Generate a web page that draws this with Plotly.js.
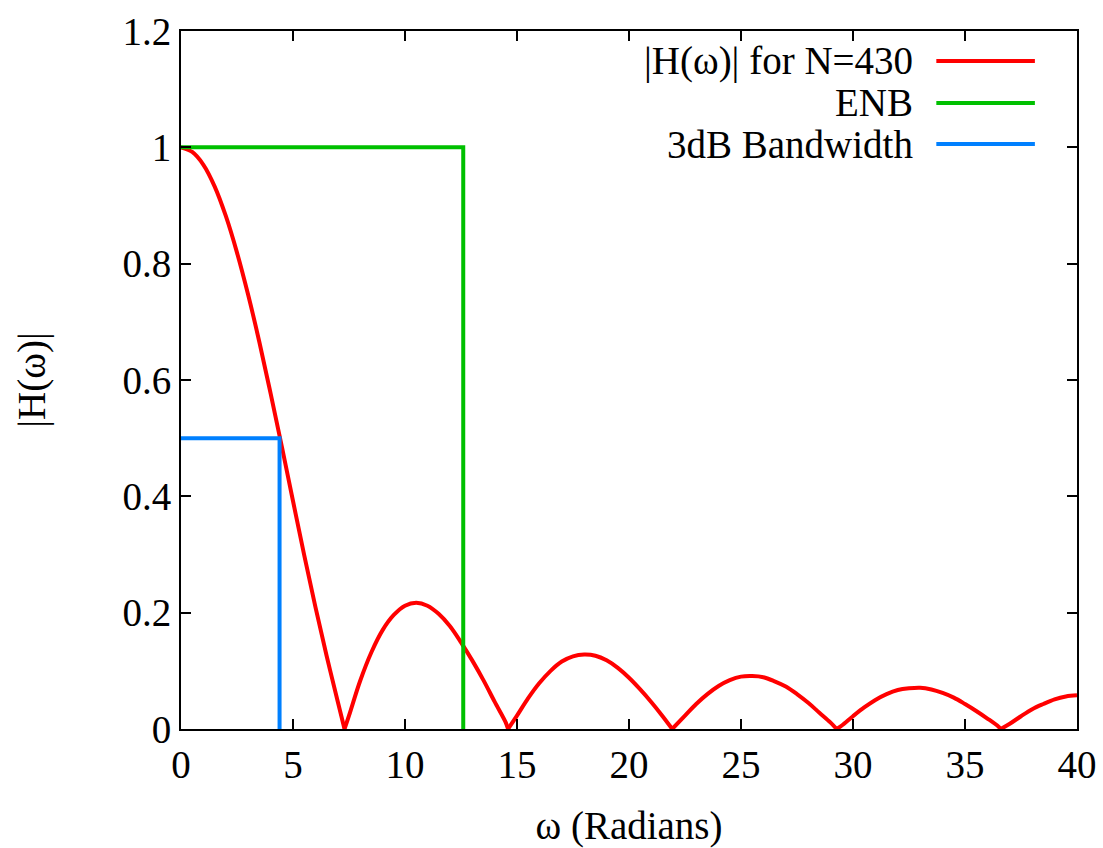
<!DOCTYPE html>
<html>
<head>
<meta charset="utf-8">
<script src="https://cdn.plot.ly/plotly-3.0.1.min.js"></script>
<style>html,body{margin:0;padding:0;background:#fff;}#chart{width:1103px;height:848px;}</style>
</head>
<body>
<div id="chart"></div>
<script>
// |H(w)|
const omega = [0,0.5,1,1.5,2,2.5,3,3.5,4,4.5,5,5.5,6,6.5,7,7.3,7.5,8,8.5,9,9.5,10,10.5,11,11.5,12,12.5,13,13.5,14,14.5,14.6,15,15.5,16,16.5,17,17.5,18,18.5,19,19.5,20,20.5,21,21.5,21.93,22.5,23,23.5,24,24.5,25,25.5,26,26.5,27,27.5,28,28.5,29,29.27,29.5,30,30.5,31,31.5,32,32.5,33,33.5,34,34.5,35,35.5,36,36.5,36.6,37,37.5,38,38.5,39,39.5,40];
const magH = [1,0.992,0.970,0.933,0.882,0.819,0.746,0.665,0.577,0.486,0.392,0.299,0.210,0.126,0.047,0,0.023,0.083,0.132,0.170,0.196,0.212,0.217,0.212,0.198,0.177,0.149,0.118,0.084,0.047,0.011,0,0.023,0.053,0.079,0.100,0.116,0.125,0.128,0.126,0.118,0.105,0.088,0.068,0.046,0.022,0,0.023,0.043,0.060,0.074,0.084,0.090,0.091,0.089,0.082,0.073,0.060,0.045,0.028,0.011,0,0.006,0.022,0.037,0.050,0.060,0.067,0.070,0.071,0.068,0.062,0.054,0.043,0.031,0.018,0.004,0,0.009,0.022,0.034,0.043,0.051,0.056,0.058];
// Equivalent noise bandwidth box
const enbX = [0,12.6,12.6];
const enbY = [1,1,0];
// 3dB bandwidth box
const bw3X = [0,4.4,4.4];
const bw3Y = [0.5,0.5,0];
const seriesNames = ["|H(ω)| for N=430","ENB","3dB Bandwidth"];
const seriesColors = ["#ff0000","#00c000","#0080ff"];
const xTicks = [0,5,10,15,20,25,30,35,40];
const yTicks = [0,0.2,0.4,0.6,0.8,1,1.2];
const yTickText = ["0","0.2","0.4","0.6","0.8","1","1.2"];

const FONT = "'Liberation Serif', 'Times New Roman', serif";
const FS = 39;

// split the curve into lobes at its zeros so each lobe can be smoothed
// while keeping the sharp notches
const lobeX = [], lobeY = [];
for (let i = 0; i < omega.length; i++) {
  lobeX.push(omega[i]); lobeY.push(magH[i]);
  if (magH[i] === 0 && i > 0 && i < omega.length - 1) {
    lobeX.push(null); lobeY.push(null);
    lobeX.push(omega[i]); lobeY.push(magH[i]);
  }
}

const traces = [
  {x: lobeX, y: lobeY, mode: "lines", name: seriesNames[0], connectgaps: false,
   line: {color: seriesColors[0], width: 4, shape: "spline", smoothing: 1}},
  {x: enbX, y: enbY, mode: "lines", name: seriesNames[1], line: {color: seriesColors[1], width: 4}},
  {x: bw3X, y: bw3Y, mode: "lines", name: seriesNames[2], line: {color: seriesColors[2], width: 4}}
];

const legY = [0.957, 0.897, 0.838];
const annotations = [];
const shapes = [];
for (let i = 0; i < 3; i++) {
  annotations.push({xref: "paper", yref: "paper", x: 0.819, y: legY[i], xanchor: "right", yanchor: "middle",
    text: seriesNames[i], showarrow: false, font: {family: FONT, size: FS, color: "#000"}});
  shapes.push({type: "line", xref: "paper", yref: "paper", x0: 0.843, x1: 0.953, y0: legY[i], y1: legY[i],
    line: {color: seriesColors[i], width: 4}});
}

const axisCommon = {
  showline: true, linecolor: "#000", linewidth: 2, mirror: "allticks",
  ticks: "inside", ticklen: 10, tickwidth: 2, tickcolor: "#000",
  showgrid: false, zeroline: false,
  tickfont: {family: FONT, size: FS, color: "#000"}
};

const layout = {
  width: 1103, height: 848,
  margin: {l: 181, r: 26, t: 31, b: 119},
  paper_bgcolor: "#fff", plot_bgcolor: "#fff",
  showlegend: false,
  font: {family: FONT, color: "#000"},
  xaxis: Object.assign({}, axisCommon, {
    range: [0, 40], tickvals: xTicks, ticktext: xTicks.map(String),
    title: {text: "ω (Radians)", font: {family: FONT, size: FS}, standoff: 28}
  }),
  yaxis: Object.assign({}, axisCommon, {
    range: [0, 1.2], tickvals: yTicks, ticktext: yTickText,
    title: {text: "|H(ω)|", font: {family: FONT, size: FS}, standoff: 65}
  }),
  annotations: annotations,
  shapes: shapes
};

Plotly.newPlot("chart", traces, layout, {displayModeBar: false, staticPlot: true});
</script>
</body>
</html>
